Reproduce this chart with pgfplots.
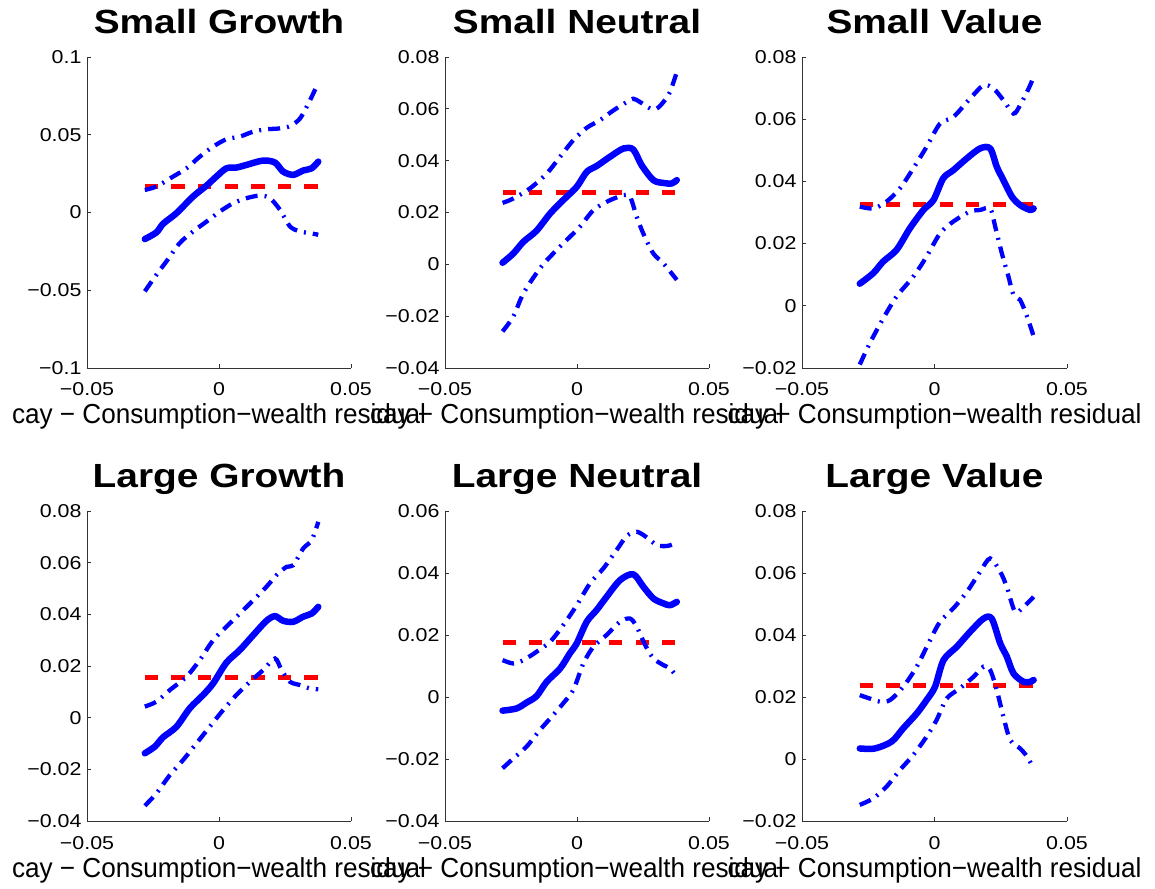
\documentclass[border=0pt]{standalone}
\usepackage{fontspec}
\setmainfont{Liberation Sans}
\newfontfamily\tickfont{Liberation Sans}[FakeStretch=1.15]
\newfontfamily\labfont{Liberation Sans}[FakeStretch=0.95]
\newfontfamily\titfont{Liberation Sans}[FakeStretch=1.16]
\usepackage{pgfplots}
\pgfplotsset{compat=1.18}
\definecolor{mblue}{RGB}{0,0,255}
\definecolor{mred}{RGB}{255,0,0}
\pgfplotsset{
  panel/.style={
    scale only axis, width=264pt, height=311pt, anchor=south west,
    scaled ticks=false,
    xmin=-0.05, xmax=0.05, xtick={-0.05,0,0.05}, xticklabels={−0.05,0,0.05},
    axis x line=bottom, axis y line=left,
    axis line style={-, line width=0.8pt, black!80},
    tick style={line width=0.8pt, black!80},
    tick align=inside, major tick length=4pt,
    ticklabel style={font=\tickfont\fontsize{18.6}{22}\selectfont},
    xticklabel style={anchor=base, yshift=-28pt},
    yticklabel style={anchor=east, xshift=-2pt},
    xlabel={cay − Consumption−wealth residual},
    xlabel style={at={(axis description cs:0.5,0)}, anchor=base, yshift=-56pt, font=\labfont\fontsize{27.5}{32}\selectfont},
    title style={at={(axis description cs:0.5,1)}, anchor=base, yshift=17pt, font=\titfont\bfseries\fontsize{33.5}{40}\selectfont},
    clip=false,
  },
  est/.style={mblue, line width=6.5pt, line join=round, line cap=round, smooth},
  band/.style={mblue, line width=4.3pt, smooth, dash pattern=on 12pt off 7pt on 2pt off 7pt},
  avg/.style={mred, line width=5pt, dash pattern=on 13.3pt off 13.3pt},
}
\begin{document}
\begin{tikzpicture}
\useasboundingbox (0,0) rectangle (1155pt,888pt);
% ---------------- Small Growth
\begin{axis}[panel, at={(87pt,520pt)}, title={Small Growth},
  ymin=-0.1, ymax=0.1, ytick={-0.1,-0.05,0,0.05,0.1}, yticklabels={−0.1,−0.05,0,0.05,0.1}]
\addplot[avg] coordinates {(-0.0281,0.0166)(0.0376,0.0166)};
\addplot[band] coordinates {(-0.0281,0.0145)(-0.0237,0.0167)(-0.0174,0.0231)(-0.0123,0.0284)(-0.0073,0.0359)(-0.0022,0.0424)(0.0028,0.0471)(0.0079,0.0488)(0.0130,0.0520)(0.0180,0.0535)(0.0231,0.0541)(0.0269,0.0556)(0.0307,0.0605)(0.0345,0.0723)(0.0376,0.0834)};
\addplot[band] coordinates {(-0.0281,-0.0507)(-0.0237,-0.0400)(-0.0199,-0.0314)(-0.0149,-0.0197)(-0.0098,-0.0122)(-0.0047,-0.0058)(0.0003,0.0006)(0.0054,0.0060)(0.0104,0.0092)(0.0155,0.0109)(0.0193,0.0092)(0.0231,0.0017)(0.0269,-0.0090)(0.0307,-0.0122)(0.0345,-0.0133)(0.0376,-0.0143)};
\addplot[est] coordinates {(-0.0281,-0.0171)(-0.0237,-0.0128)(-0.0212,-0.0073)(-0.0161,-0.0004)(-0.0098,0.0103)(-0.0047,0.0173)(-0.0010,0.0231)(0.0028,0.0284)(0.0066,0.0289)(0.0104,0.0306)(0.0167,0.0334)(0.0212,0.0321)(0.0243,0.0263)(0.0281,0.0242)(0.0319,0.0270)(0.0351,0.0284)(0.0376,0.0327)};
\end{axis}
% ---------------- Small Neutral
\begin{axis}[panel, at={(445pt,520pt)}, title={Small Neutral},
  ymin=-0.04, ymax=0.08, ytick={-0.04,-0.02,0,0.02,0.04,0.06,0.08}, yticklabels={−0.04,−0.02,0,0.02,0.04,0.06,0.08}]
\addplot[avg] coordinates {(-0.0282,0.0276)(0.0378,0.0276)};
\addplot[band] coordinates {(-0.0282,0.0237)(-0.0241,0.0254)(-0.0178,0.0293)(-0.0115,0.0350)(-0.0064,0.0415)(-0.0014,0.0479)(0.0037,0.0527)(0.0087,0.0556)(0.0138,0.0594)(0.0188,0.0626)(0.0213,0.0639)(0.0239,0.0626)(0.0277,0.0601)(0.0302,0.0601)(0.0327,0.0626)(0.0352,0.0665)(0.0378,0.0742)};
\addplot[band] coordinates {(-0.0282,-0.0259)(-0.0241,-0.0201)(-0.0203,-0.0112)(-0.0140,-0.0015)(-0.0090,0.0042)(-0.0039,0.0094)(0.0011,0.0145)(0.0062,0.0209)(0.0112,0.0241)(0.0150,0.0258)(0.0176,0.0267)(0.0201,0.0261)(0.0226,0.0184)(0.0251,0.0119)(0.0289,0.0042)(0.0327,0.0004)(0.0378,-0.0060)};
\addplot[est] coordinates {(-0.0282,0.0006)(-0.0241,0.0042)(-0.0203,0.0087)(-0.0153,0.0130)(-0.0102,0.0196)(-0.0052,0.0248)(-0.0001,0.0299)(0.0037,0.0357)(0.0074,0.0379)(0.0125,0.0415)(0.0176,0.0447)(0.0213,0.0443)(0.0245,0.0382)(0.0289,0.0325)(0.0327,0.0314)(0.0359,0.0312)(0.0378,0.0325)};
\end{axis}
% ---------------- Small Value
\begin{axis}[panel, at={(802pt,520pt)}, width=265pt, title={Small Value},
  ymin=-0.02, ymax=0.08, ytick={-0.02,0,0.02,0.04,0.06,0.08}, yticklabels={−0.02,0,0.02,0.04,0.06,0.08}]
\addplot[avg] coordinates {(-0.0282,0.0326)(0.0374,0.0326)};
\addplot[band] coordinates {(-0.0282,0.0319)(-0.0231,0.0313)(-0.0181,0.0335)(-0.0130,0.0378)(-0.0080,0.0442)(-0.0030,0.0511)(0.0021,0.0586)(0.0071,0.0607)(0.0134,0.0666)(0.0185,0.0709)(0.0223,0.0698)(0.0260,0.0661)(0.0298,0.0618)(0.0323,0.0645)(0.0355,0.0698)(0.0374,0.0736)};
\addplot[band] coordinates {(-0.0282,-0.0189)(-0.0244,-0.0120)(-0.0193,-0.0040)(-0.0143,0.0030)(-0.0080,0.0094)(-0.0030,0.0158)(0.0021,0.0233)(0.0071,0.0271)(0.0134,0.0303)(0.0172,0.0308)(0.0210,0.0313)(0.0229,0.0255)(0.0254,0.0169)(0.0279,0.0094)(0.0298,0.0035)(0.0323,0.0019)(0.0349,-0.0034)(0.0374,-0.0098)};
\addplot[est] coordinates {(-0.0282,0.0071)(-0.0231,0.0105)(-0.0194,0.0142)(-0.0143,0.0180)(-0.0093,0.0249)(-0.0042,0.0308)(-0.0004,0.0340)(0.0033,0.0410)(0.0071,0.0436)(0.0122,0.0474)(0.0172,0.0506)(0.0210,0.0506)(0.0235,0.0447)(0.0260,0.0404)(0.0292,0.0351)(0.0323,0.0324)(0.0361,0.0308)(0.0374,0.0313)};
\end{axis}
% ---------------- Large Growth
\begin{axis}[panel, at={(87pt,67pt)}, height=310pt, title={Large Growth},
  ymin=-0.04, ymax=0.08, ytick={-0.04,-0.02,0,0.02,0.04,0.06,0.08}, yticklabels={−0.04,−0.02,0,0.02,0.04,0.06,0.08}]
\addplot[avg] coordinates {(-0.0281,0.0156)(0.0376,0.0156)};
\addplot[band] coordinates {(-0.0281,0.0043)(-0.0237,0.0062)(-0.0186,0.0107)(-0.0123,0.0159)(-0.0073,0.0223)(-0.0022,0.0300)(0.0028,0.0352)(0.0079,0.0403)(0.0130,0.0455)(0.0180,0.0507)(0.0218,0.0552)(0.0256,0.0584)(0.0281,0.0590)(0.0319,0.0655)(0.0351,0.0687)(0.0376,0.0758)};
\addplot[band] coordinates {(-0.0281,-0.0341)(-0.0237,-0.0293)(-0.0186,-0.0222)(-0.0136,-0.0164)(-0.0085,-0.0099)(-0.0035,-0.0035)(0.0016,0.0030)(0.0066,0.0088)(0.0117,0.0139)(0.0167,0.0184)(0.0212,0.0229)(0.0237,0.0184)(0.0269,0.0139)(0.0307,0.0126)(0.0345,0.0113)(0.0376,0.0110)};
\addplot[est] coordinates {(-0.0281,-0.0138)(-0.0243,-0.0112)(-0.0212,-0.0076)(-0.0161,-0.0035)(-0.0111,0.0036)(-0.0060,0.0088)(-0.0022,0.0133)(0.0028,0.0213)(0.0079,0.0262)(0.0130,0.0320)(0.0180,0.0375)(0.0212,0.0393)(0.0243,0.0375)(0.0281,0.0371)(0.0319,0.0391)(0.0351,0.0403)(0.0376,0.0429)};
\end{axis}
% ---------------- Large Neutral
\begin{axis}[panel, at={(445pt,67pt)}, height=310pt, title={Large Neutral},
  ymin=-0.04, ymax=0.06, ytick={-0.04,-0.02,0,0.02,0.04,0.06}, yticklabels={−0.04,−0.02,0,0.02,0.04,0.06}]
\addplot[avg] coordinates {(-0.0282,0.0176)(0.0378,0.0176)};
\addplot[band] coordinates {(-0.0282,0.0119)(-0.0241,0.0108)(-0.0203,0.0119)(-0.0153,0.0146)(-0.0102,0.0178)(-0.0052,0.0232)(-0.0001,0.0296)(0.0049,0.0366)(0.0100,0.0415)(0.0150,0.0474)(0.0188,0.0519)(0.0226,0.0533)(0.0264,0.0515)(0.0302,0.0490)(0.0340,0.0487)(0.0371,0.0495)};
\addplot[band] coordinates {(-0.0282,-0.0230)(-0.0241,-0.0198)(-0.0191,-0.0160)(-0.0140,-0.0106)(-0.0090,-0.0058)(-0.0052,-0.0020)(-0.0014,0.0023)(0.0024,0.0108)(0.0062,0.0162)(0.0112,0.0200)(0.0163,0.0243)(0.0201,0.0253)(0.0226,0.0227)(0.0258,0.0168)(0.0289,0.0125)(0.0327,0.0103)(0.0352,0.0092)(0.0378,0.0066)};
\addplot[est] coordinates {(-0.0282,-0.0044)(-0.0229,-0.0037)(-0.0191,-0.0018)(-0.0153,0.0003)(-0.0115,0.0049)(-0.0064,0.0092)(-0.0027,0.0141)(-0.0001,0.0173)(0.0037,0.0243)(0.0074,0.0280)(0.0112,0.0323)(0.0163,0.0377)(0.0213,0.0396)(0.0251,0.0356)(0.0289,0.0318)(0.0327,0.0302)(0.0352,0.0296)(0.0378,0.0307)};
\end{axis}
% ---------------- Large Value
\begin{axis}[panel, at={(802pt,67pt)}, width=265pt, height=310pt, title={Large Value},
  ymin=-0.02, ymax=0.08, ytick={-0.02,0,0.02,0.04,0.06,0.08}, yticklabels={−0.02,0,0.02,0.04,0.06,0.08}]
\addplot[avg] coordinates {(-0.0282,0.0238)(0.0374,0.0238)};
\addplot[band] coordinates {(-0.0282,0.0206)(-0.0244,0.0195)(-0.0206,0.0185)(-0.0168,0.0190)(-0.0118,0.0233)(-0.0067,0.0298)(-0.0017,0.0383)(0.0021,0.0443)(0.0071,0.0486)(0.0122,0.0539)(0.0172,0.0604)(0.0210,0.0647)(0.0248,0.0604)(0.0273,0.0555)(0.0304,0.0475)(0.0336,0.0491)(0.0374,0.0523)};
\addplot[band] coordinates {(-0.0282,-0.0148)(-0.0231,-0.0127)(-0.0181,-0.0089)(-0.0130,-0.0035)(-0.0080,0.0013)(-0.0030,0.0072)(0.0008,0.0126)(0.0046,0.0195)(0.0096,0.0228)(0.0147,0.0265)(0.0185,0.0298)(0.0210,0.0287)(0.0235,0.0222)(0.0260,0.0136)(0.0286,0.0061)(0.0323,0.0034)(0.0349,0.0008)(0.0374,-0.0030)};
\addplot[est] coordinates {(-0.0282,0.0034)(-0.0225,0.0034)(-0.0162,0.0056)(-0.0118,0.0099)(-0.0067,0.0147)(-0.0030,0.0190)(0.0002,0.0233)(0.0034,0.0319)(0.0084,0.0362)(0.0134,0.0410)(0.0185,0.0453)(0.0216,0.0453)(0.0248,0.0373)(0.0273,0.0330)(0.0298,0.0276)(0.0336,0.0249)(0.0361,0.0249)(0.0374,0.0255)};
\end{axis}
\end{tikzpicture}
\end{document}
